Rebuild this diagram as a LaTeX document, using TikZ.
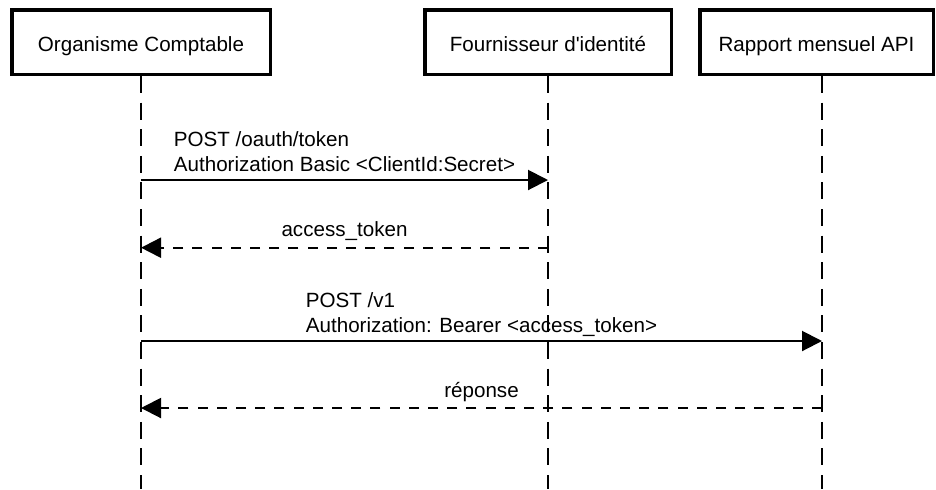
\documentclass[tikz,border=0pt]{standalone}
\usepackage{fontspec}
\setmainfont{Liberation Sans}
\usetikzlibrary{arrows.meta}

\begin{document}
\begin{tikzpicture}[
  x=0.5pt, y=-0.5pt,
  font=\fontsize{10.3}{12.5}\selectfont,
  actor/.style={draw, line width=1.75pt, minimum height=32.25pt, inner sep=0pt, text height=9.2pt, text depth=0pt},
  lifeline/.style={line width=1pt, dash pattern=on 8.5pt off 4.8pt},
  call/.style={-{Triangle[length=10pt, width=10pt]}, line width=1pt},
  reply/.style={call, dash pattern=on 5pt off 4.6pt},
  msg/.style={above=#1, inner sep=0pt, text depth=0pt, align=left},
  msg/.default=4pt]

  \useasboundingbox (0,0) rectangle (936,489);

  % Participants
  \node[actor, minimum width=129.25pt] (organisme) at (141,42) {Organisme Comptable};
  \node[actor, minimum width=123.25pt] (fournisseur) at (548,42) {Fournisseur d\textquotesingle identité};
  \node[actor, minimum width=116.75pt] (rapport) at (816.5,42) {Rapport mensuel API};

  \coordinate (organisme-life) at (141,489);
  \coordinate (fournisseur-life) at (548,489);
  \coordinate (rapport-life) at (822,489);

  \draw[lifeline] (organisme.south) -- (organisme-life);
  \draw[lifeline] (fournisseur.south) -- (fournisseur-life);
  \draw[lifeline] (rapport.south -| rapport-life) -- (rapport-life);

  % Messages
  \coordinate (m1) at (0,180);
  \coordinate (m2) at (0,247.7);
  \coordinate (m3) at (0,341);
  \coordinate (m4) at (0,408);

  \draw[call] (organisme-life |- m1) -- node[msg] {POST /oauth/token\\Authorization Basic <ClientId:Secret>} (fournisseur-life |- m1);
  \draw[reply] (fournisseur-life |- m2) -- node[msg=5pt] {access\_token} (organisme-life |- m2);
  \draw[call] (organisme-life |- m3) -- node[msg] {POST /v1\\Authorization: Bearer <access\_token>} (rapport-life |- m3);
  \draw[reply] (rapport-life |- m4) -- node[msg=5pt] {réponse} (organisme-life |- m4);

\end{tikzpicture}
\end{document}
